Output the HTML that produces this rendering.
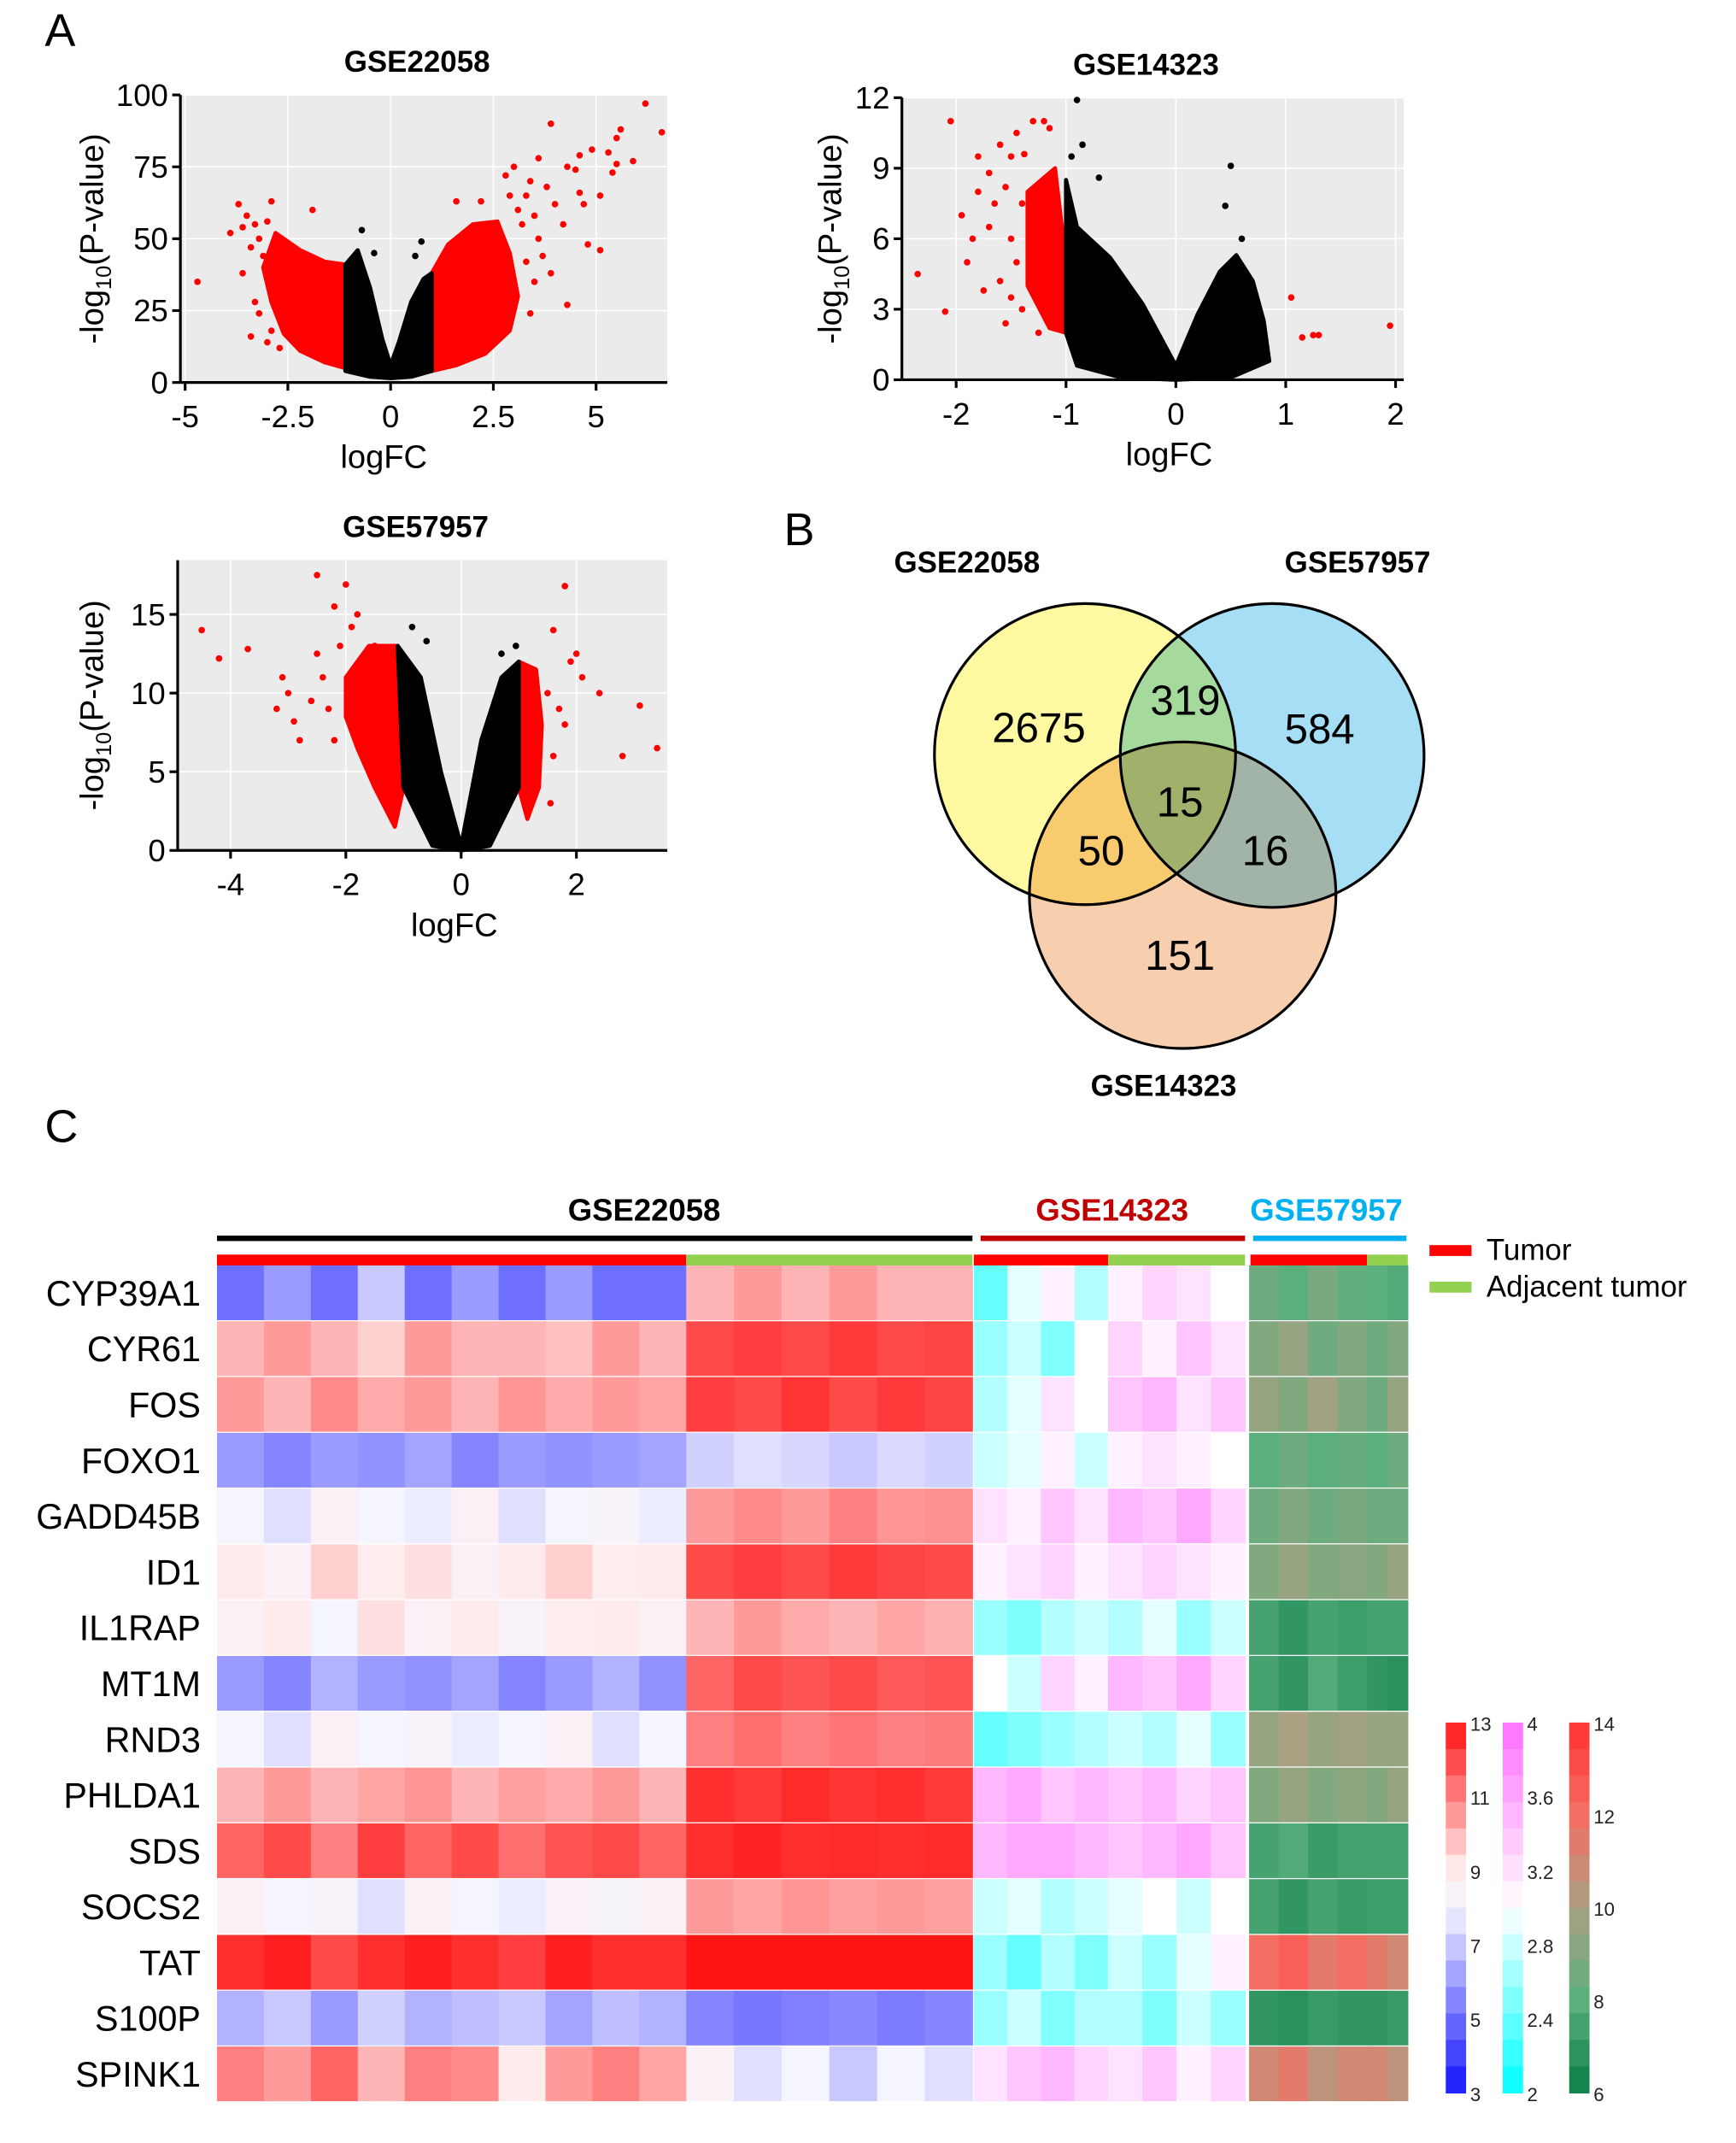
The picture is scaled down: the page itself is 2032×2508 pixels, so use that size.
<!DOCTYPE html>
<html><head><meta charset="utf-8"><style>
html,body{margin:0;padding:0;background:#fff}
svg{display:block;font-family:"Liberation Sans",Arial,sans-serif}
</style></head><body>
<svg id="fig" xmlns="http://www.w3.org/2000/svg" width="2032" height="2508" viewBox="0 0 1280 1580" preserveAspectRatio="none">
<rect width="1280" height="1580" fill="#fff"/>
<text x="33" y="34" font-size="34">A</text>
<text x="578" y="402" font-size="34">B</text>
<text x="33" y="842" font-size="34">C</text>
<g id="volcanoes"></g>
<g id="venn">
 <circle cx="800" cy="556" r="111" fill="#fffaa2"/>
 <circle cx="938" cy="557" r="112" fill="#a6def5" style="mix-blend-mode:multiply"/>
 <circle cx="872" cy="660" r="113" fill="#f8cfae" style="mix-blend-mode:multiply"/>
 <circle cx="800" cy="556" r="111" fill="none" stroke="#000" stroke-width="2"/>
 <circle cx="938" cy="557" r="112" fill="none" stroke="#000" stroke-width="2"/>
 <circle cx="872" cy="660" r="113" fill="none" stroke="#000" stroke-width="2"/>
 <g font-size="31" text-anchor="middle">
 <text x="766" y="547">2675</text>
 <text x="874" y="527">319</text>
 <text x="973" y="548">584</text>
 <text x="870" y="602">15</text>
 <text x="812" y="638">50</text>
 <text x="933" y="638">16</text>
 <text x="870" y="715">151</text>
 </g>
 <g font-size="22" font-weight="bold" text-anchor="middle">
 <text x="713" y="422">GSE22058</text>
 <text x="1001" y="422">GSE57957</text>
 <text x="858" y="808">GSE14323</text>
 </g>
</g>
<g id="heat"></g>
</svg>
<script>
// ===== Volcano data (logFC, -log10 P) =====
const v1BlackEnv=[[-1.1,41],[-0.8,46],[-0.5,33],[-0.2,15],[0,6],[0.2,14],[0.5,28],[0.8,36],[1.0,38],[1.0,4],[0.5,2],[0,1.5],[-0.5,2],[-1.1,4]];
const v1RedLeftEnv=[[-2.8,52],[-2.2,46],[-1.6,42],[-1.1,41],[-1.1,5],[-1.6,7],[-2.2,11],[-2.6,17],[-2.9,28],[-3.1,40]];
const v1RedRightEnv=[[1.0,38],[1.4,48],[2.0,55],[2.6,56],[2.9,45],[3.1,30],[2.9,18],[2.3,10],[1.6,6],[1.0,4]];
const v1RedPts=[[-4.7,35],[-3.9,52],[-3.4,16],[-3.6,38],[-3.3,28],[-2.9,63],[-1.9,60],[-2.9,18],[-3.7,62],[-3.5,58],[-3.3,55],[-3.6,54],[-3.2,50],[-3.0,56],[-3.4,47],[-3.1,44],[-2.8,38],[-3.2,24],[-2.7,12],[-3.0,14],[3.9,90],[6.2,97],[6.6,87],[5.6,88],[5.5,85],[5.3,80],[4.9,81],[4.6,79],[4.5,74],[4.3,75],[5.1,65],[5.5,76],[5.9,77],[3.6,78],[3.0,75],[2.8,72],[4.6,66],[4.7,62],[4.3,27],[5.1,46],[5.4,73],[4.8,48],[3.4,70],[3.8,68],[4.0,62],[3.5,58],[4.2,55],[3.7,44],[3.9,38],[2.2,63],[1.6,63],[3.3,65],[3.2,55],[3.3,42],[3.5,35],[3.4,24],[3.1,60],[2.9,65],[3.6,50]];
const v1BlackPts=[[-0.7,53],[0.75,49],[-0.4,45],[0.6,44]];
const v2BlackEnv=[[-1.0,8.5],[-0.9,6.5],[-0.6,5.2],[-0.3,3.2],[0,0.6],[0.2,2.8],[0.4,4.6],[0.55,5.3],[0.7,4.2],[0.8,2.5],[0.85,0.8],[0.5,0.1],[0,0],[-0.5,0.1],[-0.9,0.6],[-1.0,2]];
const v2RedLeftEnv=[[-1.35,8],[-1.1,9],[-1.0,5],[-1.0,2],[-1.15,2.2],[-1.35,4]];
const v2RedPts=[[-2.35,4.5],[-2.05,11],[-1.95,7],[-1.8,8],[-1.9,5],[-1.75,3.8],[-1.6,10],[-1.5,9.5],[-1.45,10.5],[-1.7,6.5],[-1.55,2.4],[-1.3,11],[-1.15,10.7],[-1.2,11],[-2.1,2.9],[-1.85,6],[-1.65,7.5],[-1.4,7.5],[-1.5,6],[-1.45,5],[-1.6,4.2],[-1.4,3],[-1.7,8.8],[-1.55,8.2],[-1.38,9.6],[-1.25,2],[-1.8,9.5],[-1.5,3.5],[1.05,3.5],[1.25,1.9],[1.3,1.9],[1.95,2.3],[1.15,1.8]];
const v2BlackPts=[[-0.9,11.9],[-0.85,10],[-0.95,9.5],[0.5,9.1],[0.45,7.4],[0.6,6],[-0.7,8.6]];
const v3BlackEnv=[[-1.1,13],[-0.7,11],[-0.35,5],[0,0.3],[0.35,7],[0.7,11],[1.0,12],[1.0,4],[0.5,0.3],[0,0],[-0.5,0.3],[-1.0,4]];
const v3RedLeftEnv=[[-2.0,11],[-1.6,13],[-1.1,13],[-1.0,4],[-1.15,1.5],[-1.5,4],[-1.8,6.5],[-2.0,8.5]];
const v3RedRightEnv=[[1.0,12],[1.3,11.5],[1.4,8],[1.35,4],[1.15,2],[1.0,4]];
const v3RedPts=[[-4.5,14],[-4.2,12.2],[-3.7,12.8],[-3.0,10],[-3.1,11],[-2.5,17.5],[-2.0,16.9],[-2.2,15.5],[-1.8,15],[-1.5,13],[-2.8,7],[-3.2,9],[-2.9,8.2],[-2.4,11],[-2.3,9],[-2.2,7],[-2.5,12.5],[-2.1,13],[-1.9,14.2],[-2.6,9.5],[1.8,16.8],[2.1,11],[2.4,10],[3.1,9.2],[3.4,6.5],[2.8,6],[1.8,8],[1.9,12],[1.6,14],[2.0,12.5],[1.5,10],[1.6,6],[1.7,9],[1.55,3]];
const v3BlackPts=[[-0.85,14.2],[-0.6,13.3],[0.7,12.5],[0.95,13]];
const v1XTicks=[-5,-2.5,0,2.5,5], v1YTicks=[0,25,50,75,100];
const v2XTicks=[-2,-1,0,1,2], v2YTicks=[0,3,6,9,12];
const v3XTicks=[-4,-2,0,2], v3YTicks=[0,5,10,15];

// ===== Heatmap data =====
const genes=["CYP39A1","CYR61","FOS","FOXO1","GADD45B","ID1","IL1RAP","MT1M","RND3","PHLDA1","SDS","SOCS2","TAT","S100P","SPINK1"];
const hm22T=[[5,6,5,7,5,6,5,6,5,5],[10,10.5,10,9.5,10.5,10,10,9.8,10.5,10],[10.5,10,10.8,10.2,10.5,10,10.6,10.2,10.5,10.3],[6,5.5,6,5.8,6.2,5.5,6,5.8,6,6.2],[8,7.5,8.5,8,7.8,8.5,7.5,8,8.3,7.8],[9,8.5,9.5,8.8,9.2,8.5,9,9.5,8.8,9],[8.5,9,8,9.2,8.5,9,8.3,8.8,9,8.5],[6,5.5,6.5,6,5.8,6.2,5.5,6,6.5,5.8],[8,7.5,8.5,8,8.3,7.8,8,8.5,7.5,8],[10,10.5,10,10.3,10.6,10,10.4,10.2,10.5,10],[11.5,12,11,12.2,11.5,12,11.3,11.8,12,11.5],[8.5,8,8.3,7.5,8.5,8,7.8,8.4,8.2,8.5],[12.5,12.8,12,12.5,12.8,12.5,12.2,12.8,12.5,12.5],[6.5,7,6,7.2,6.5,6.8,7,6.2,6.8,6.5],[11,10.5,11.5,10,11,10.8,9,10.5,11,10.3]];
const hm22A=[[10,10.5,10,10.5,10,10],[12,12.2,12,12.3,12,12.1],[12.2,12,12.4,12,12.3,12.1],[7.2,7.5,7.3,7,7.4,7.2],[10.5,10.8,10.5,11,10.6,10.7],[12,12.2,12,12.3,12.1,12],[10,10.5,10.2,10,10.3,10.1],[11.5,12,11.8,12,11.7,11.8],[11,11.3,11,11.2,11,11.1],[12.5,12.3,12.6,12.4,12.5,12.3],[12.5,12.7,12.5,12.6,12.5,12.6],[10.5,10.3,10.6,10.4,10.5,10.4],[13,13,13,13,13,13],[5.5,5.2,5.4,5.6,5.3,5.5],[8.5,7.5,8,7,8,7.5]];
const hm14T=[[2.4,2.9,3.1,2.7],[2.6,2.8,2.5,3.0],[2.7,2.9,3.2,3.0],[2.8,2.9,3.1,2.8],[3.2,3.1,3.4,3.2],[3.1,3.2,3.3,3.1],[2.6,2.5,2.7,2.8],[3.0,2.8,3.3,3.1],[2.4,2.5,2.6,2.7],[3.5,3.6,3.4,3.5],[3.5,3.6,3.6,3.5],[2.8,2.9,2.7,2.8],[2.6,2.4,2.7,2.5],[2.6,2.8,2.5,2.7],[3.2,3.4,3.5,3.3]];
const hm14A=[[3.1,3.3,3.2,3.0],[3.3,3.1,3.4,3.2],[3.4,3.5,3.2,3.4],[3.1,3.2,3.1,3.0],[3.5,3.4,3.6,3.3],[3.2,3.3,3.2,3.1],[2.7,2.9,2.6,2.8],[3.5,3.4,3.6,3.3],[2.8,2.7,2.9,2.6],[3.4,3.5,3.3,3.4],[3.4,3.5,3.6,3.4],[2.9,3.0,2.8,3.0],[2.8,2.6,2.9,3.1],[2.7,2.5,2.8,2.6],[3.2,3.4,3.1,3.3]];
const hm57T=[[8.5,8,8.8,8.2],[9,9.5,8.5,9],[9.5,9,9.8,9],[8,8.5,8,8.3],[8.5,9,8.5,8.8],[9,9.5,9,9.2],[7.5,7,7.5,7.3],[7.5,7,7.8,7.3],[9.5,10,9.5,9.8],[9,9.5,9,9.3],[7.5,7.8,7.2,7.5],[7.5,7,7.5,7.2],[12,12.5,11.5,12],[7,6.8,7.2,7],[11,11.5,10.5,11]];
const hm57A=[[8,7.8],[8.5,9],[8.5,9.5],[8,8.5],[8.5,8.5],[9,9.5],[7.5,7.5],[7,6.8],[9.5,9.5],[9,9.5],[7.5,7.5],[7.3,7.3],[11.5,11],[7,7.2],[11,10.5]];
const cb1Ticks=[3,5,7,9,11,13], cb2Ticks=[2,2.4,2.8,3.2,3.6,4], cb3Ticks=[6,8,10,12,14];

const NS="http://www.w3.org/2000/svg";
function mk(tag,attrs,parent){const e=document.createElementNS(NS,tag);for(const k in attrs)e.setAttribute(k,attrs[k]);parent.appendChild(e);return e;}

function volcano(cfg){
  const g=mk('g',{},document.getElementById('volcanoes'));
  
  
  const X=v=>cfg.x0+cfg.sx*v, Y=v=>cfg.y0-cfg.sy*v;
  mk('rect',{x:cfg.L,y:cfg.T,width:cfg.R-cfg.L,height:cfg.y0-cfg.T,fill:'#ebebeb'},g);
  cfg.xt.forEach(t=>mk('line',{x1:X(t),x2:X(t),y1:cfg.T,y2:cfg.y0,stroke:'#fff','stroke-width':1},g));
  cfg.yt.forEach(t=>mk('line',{x1:cfg.L,x2:cfg.R,y1:Y(t),y2:Y(t),stroke:'#fff','stroke-width':1},g));
  const poly=(env,col,nm)=>{if(!env)return;const p=mk('polygon',{points:env.map(d=>X(d[0])+','+Y(d[1])).join(' '),fill:col,stroke:col,'stroke-width':3,'stroke-linejoin':'round'},g);
    
    };
  poly(cfg.rl,'#f00','red-cloud-left');poly(cfg.rr,'#f00','red-cloud-right');poly(cfg.bk,'#000','black-cloud');
  cfg.rp.forEach(d=>{const c=mk('circle',{cx:X(d[0]),cy:Y(d[1]),r:2.4,fill:'#f00'},g);
    
    });
  cfg.bp.forEach(d=>{const c=mk('circle',{cx:X(d[0]),cy:Y(d[1]),r:2.4,fill:'#000'},g);
    
    });
  mk('line',{x1:cfg.L,x2:cfg.R,y1:cfg.y0,y2:cfg.y0,stroke:'#000','stroke-width':2},g);
  mk('line',{x1:cfg.L,x2:cfg.L,y1:cfg.T,y2:cfg.y0,stroke:'#000','stroke-width':2},g);
  cfg.xt.forEach(t=>{mk('line',{x1:X(t),x2:X(t),y1:cfg.y0,y2:cfg.y0+6,stroke:'#000','stroke-width':2},g);
    const tx=mk('text',{x:X(t),y:cfg.y0+33,'font-size':23,'text-anchor':'middle'},g);tx.textContent=String(t);
    
    });
  cfg.yt.forEach(t=>{mk('line',{x1:cfg.L-6,x2:cfg.L,y1:Y(t),y2:Y(t),stroke:'#000','stroke-width':2},g);
    const tx=mk('text',{x:cfg.L-9,y:Y(t)+8,'font-size':23,'text-anchor':'end'},g);tx.textContent=String(t);
    
    });
  const tt=mk('text',{x:(cfg.L+cfg.R)/2-5,y:cfg.T-17,'font-size':22,'font-weight':'bold','text-anchor':'middle'},g);tt.textContent=cfg.title;
  
  
  const xl=mk('text',{x:X(0)-5,y:cfg.y0+63,'font-size':24,'text-anchor':'middle'},g);xl.textContent='logFC';
  
  
  const cy=(cfg.T+cfg.y0)/2, cx=cfg.ylx;
  const yl=mk('text',{x:0,y:0,'font-size':24,'text-anchor':'middle',transform:`translate(${cx},${cy}) rotate(-90)`},g);
  
  
  yl.innerHTML='-log<tspan font-size="16" dy="6">10</tspan><tspan dy="-6">(P-value)</tspan>';
}
volcano({name:'volcano-gse22058',title:'GSE22058',L:133,R:492,T:70,y0:282,x0:288,sx:30.3,sy:2.12,xt:v1XTicks,yt:v1YTicks,bk:v1BlackEnv,rl:v1RedLeftEnv,rr:v1RedRightEnv,rp:v1RedPts,bp:v1BlackPts,ylx:76});
volcano({name:'volcano-gse14323',title:'GSE14323',L:665,R:1035,T:72,y0:280,x0:867,sx:81,sy:17.33,xt:v2XTicks,yt:v2YTicks,bk:v2BlackEnv,rl:v2RedLeftEnv,rr:null,rp:v2RedPts,bp:v2BlackPts,ylx:620});
volcano({name:'volcano-gse57957',title:'GSE57957',L:131,R:492,T:413,y0:627,x0:340,sx:42.5,sy:11.6,xt:v3XTicks,yt:v3YTicks,bk:v3BlackEnv,rl:v3RedLeftEnv,rr:v3RedRightEnv,rp:v3RedPts,bp:v3BlackPts,ylx:76});

function lerp(a,b,t){return a.map((v,i)=>Math.round(v+(b[i]-v)*t));}
function ramp(stops,v){
  if(v<=stops[0][0])return stops[0][1];
  for(let i=1;i<stops.length;i++){if(v<=stops[i][0]){const t=(v-stops[i-1][0])/(stops[i][0]-stops[i-1][0]);return lerp(stops[i-1][1],stops[i][1],t);}}
  return stops[stops.length-1][1];}
const S1=[[3,[20,20,255]],[8,[245,245,255]],[9,[255,235,235]],[13,[255,20,20]]];
const S2=[[2,[0,255,255]],[3,[255,255,255]],[4,[255,110,255]]];
const S3=[[6,[10,125,70]],[8,[90,175,125]],[10,[170,160,130]],[12,[245,110,100]],[14,[255,50,50]]];
const col=(s,v)=>'rgb('+ramp(s,v).join(',')+')';

const H=document.getElementById('heat');
const top0=933, rowH=(1550-933)/genes.length;
const segs=[[hm22T,160,506,S1],[hm22A,506,717,S1],[hm14T,718,817,S2],[hm14A,817,918,S2],[hm57T,921,1008,S3],[hm57A,1008,1038,S3]];
genes.forEach((gname,r)=>{
  const y=top0+r*rowH;
  segs.forEach(([arr,x0,x1,sc])=>{
    const vals=arr[r], w=(x1-x0)/vals.length;
    vals.forEach((v,i)=>{const c=mk('rect',{x:x0+i*w,y:y,width:w+0.4,height:rowH-0.8,fill:col(sc,v)},H);
      
      });
  });
  const t=mk('text',{x:148,y:y+rowH/2+9,'font-size':26,'text-anchor':'end'},H);t.textContent=gname;
  
  
});
[[475,'GSE22058','#000',160,717],[820,'GSE14323','#c00000',723,918],[978,'GSE57957','#00b0f0',924,1037]].forEach(([x,txt,c,a,b])=>{
  const t=mk('text',{x:x,y:900,'font-size':23,'font-weight':'bold','text-anchor':'middle',fill:c},H);t.textContent=txt;
  
  
  mk('rect',{x:a,y:911,width:b-a,height:4,fill:c},H);
});
[[160,506,'#f00'],[506,717,'#92d050'],[718,817,'#f00'],[817,918,'#92d050'],[922,1008,'#f00'],[1008,1038,'#92d050']].forEach(([a,b,c])=>{
  const r=mk('rect',{x:a,y:925,width:b-a,height:8,fill:c},H);
  
  });
[[918,'#f00','Tumor'],[945,'#92d050','Adjacent tumor']].forEach(([y,c,t])=>{
  const r=mk('rect',{x:1054,y:y,width:31,height:8,fill:c},H);
  
  
  const tx=mk('text',{x:1096,y:y+11,'font-size':22},H);tx.textContent=t;
  
  });
function cbar(x,sc,ticks,lo,hi,name){
  const yt=1270, yb=1543, n=14;
  for(let i=0;i<n;i++){const v=hi-(hi-lo)*(i+0.5)/n;
    const r=mk('rect',{x:x,y:yt+i*(yb-yt)/n,width:15,height:(yb-yt)/n+0.5,fill:col(sc,v)},H);
    
    }
  ticks.forEach(t=>{const y=yb-(t-lo)/(hi-lo)*(yb-yt);
    const tx=mk('text',{x:x+18,y:y+6,'font-size':14,fill:'#222'},H);tx.textContent=String(t);
    
    });
}
cbar(1066,S1,cb1Ticks,3,13,'colorbar-gse22058');
cbar(1108,S2,cb2Ticks,2,4,'colorbar-gse14323');
cbar(1157,S3,cb3Ticks,6,14,'colorbar-gse57957');
</script>
</body></html>
